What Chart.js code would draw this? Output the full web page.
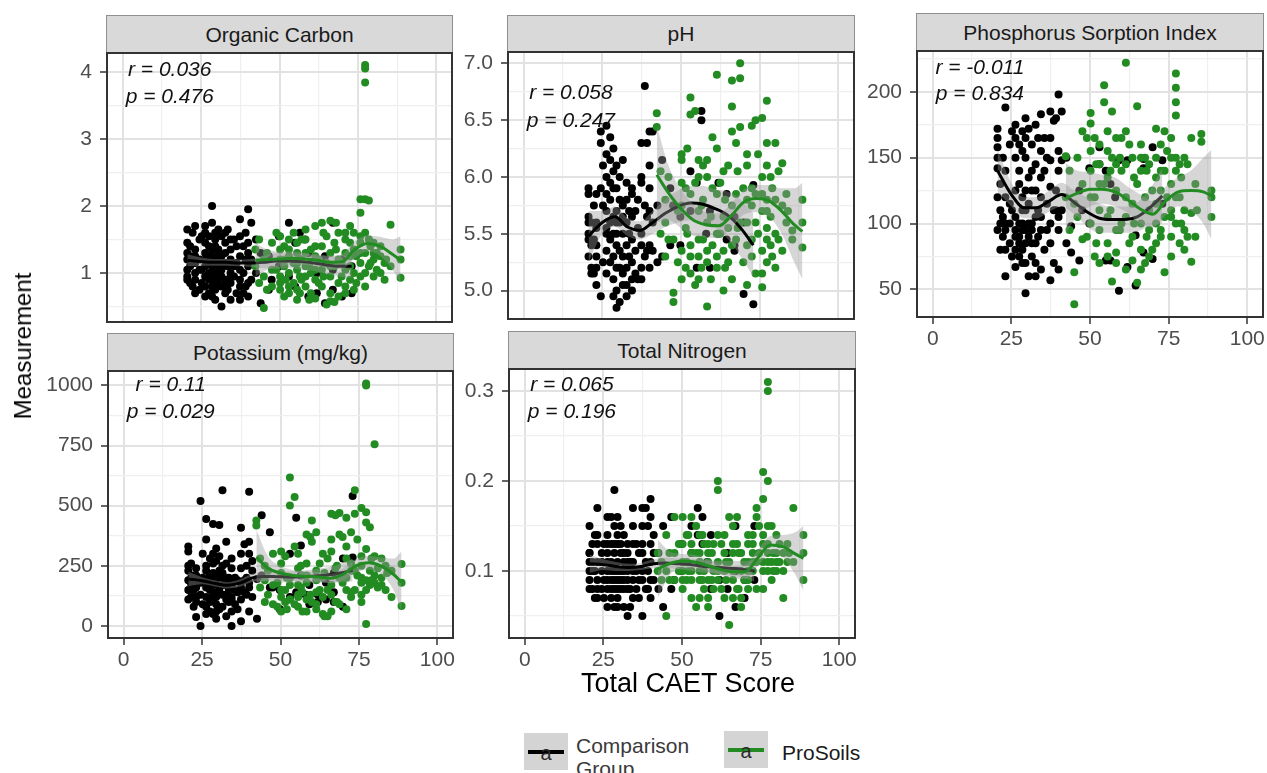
<!DOCTYPE html>
<html lang="en">
<head>
<meta charset="UTF-8">
<title>Soil measurements vs Total CAET Score</title>
<style>
  body { margin: 0; background: #fff; font-family: "Liberation Sans", Arial, sans-serif; }
  #stage { position: relative; width: 1267px; height: 773px; overflow: hidden; background: #fff; }
  #stage canvas { position: absolute; }
  .strip {
    position: absolute; box-sizing: border-box; background: #d9d9d9;
    border: 1px solid #8f8f8f; border-bottom: none; color: #1a1a1a; font-size: 21px;
    display: flex; align-items: center; justify-content: center;
  }
  .stat { position: absolute; font-size: 21px; font-style: italic; color: #111; white-space: nowrap; transform: translate(-50%, -50%); }
  .title { position: absolute; color: #000; white-space: nowrap; transform: translate(-50%, -50%); }
  .key { position: absolute; width: 44px; height: 37px; background: #d4d4d4; }
  .key .line { position: absolute; left: 4px; right: 4px; top: 17px; height: 4px; }
  .key .a { position: absolute; left: 0; right: 0; top: 9px; text-align: center; font-size: 20px; color: #2a2a2a; }
  .ltext { position: absolute; font-size: 21px; line-height: 23px; }
</style>
<script src="https://cdn.jsdelivr.net/npm/chart.js"></script>
</head>
<body>
<div id="stage"></div>
<script>
// CAET score of every sample (shared by all five panels)
const compScore = [
  20.6,20.6,20.6,20.6,20.6, 21.5,21.5,21.5,21.5, 23.1,23.1,23.1,23.1,23.1, 24.5,24.5,24.5,24.5,
  26.3,26.3,26.3,26.3,26.3,26.3, 27.5,27.5,27.5,27.5,27.5, 28.5,28.5,28.5,28.5,28.5,
  29.5,29.5,29.5,29.5,29.5,29.5, 30.5,30.5,30.5,30.5, 31.5,31.5,31.5,31.5, 32.7,32.7,32.7,32.7,32.7,
  34.4,34.4,34.4,34.4,34.4, 35.5,35.5,35.5, 37.4,37.4,37.4,37.4,37.4, 38.5,38.5,38.5, 40,40,40,40, 41,41,41,
  42.5,42.5, 44,44, 46.6,46.6, 49.8,49.8, 53,53, 55,55, 56.5,56.5, 59.2,59.2, 61.9,61.9, 64.5,64.5,
  67,67,67, 69.9,69.9, 73,73,
  20.6,20.6, 22.3,22.3,22.3, 23.1,23.1, 25.2,25.2,25.2, 26.3,26.3,26.3, 27.5,27.5, 28.5,28.5,28.5,
  29.5,29.5,29.5, 30.5,30.5, 31.5,31.5,31.5, 32.7,32.7, 33.5,33.5,33.5, 34.4,34.4, 36.3,36.3,36.3,
  37.4,37.4, 39.2,39.2,39.2, 40,40, 47.5, 58
];
const proScore = [
  42.3,42.3, 43.5,43.5, 45,45,45, 47.6,47.6,47.6, 50.2,50.2,50.2,50.2, 51.5,51.5,51.5, 53,53,53,53,
  54.5,54.5,54.5, 55.6,55.6,55.6,55.6, 57,57,57, 58.3,58.3,58.3,58.3, 60,60,60, 61.4,61.4,61.4,61.4,
  63.5,63.5,63.5,63.5, 65,65,65, 66.2,66.2,66.2,66.2, 67.5,67.5,67.5, 68.8,68.8,68.8,68.8, 71,71,71,71,
  72.5,72.5,72.5, 73.7,73.7,73.7,73.7, 75.8,75.8,75.8,75.8,75.8, 77.3,77.3,77.3,77.3,77.3,77.3,
  78.5,78.5,78.5, 80,80,80,80, 82.2,82.2,82.2, 83.5,83.5, 85.4,85.4, 88.6,88.6,88.6,
  46,46, 49,49, 50.2,50.2, 52,52, 53,53, 55.6,55.6, 56.5,56.5, 58.3,58.3, 59.5,59.5, 61.4,61.4,
  62.5,62.5, 64,64, 66.2,66.2, 68,68, 69.8,69.8, 71,71, 72.5,72.5, 74.5,74.5, 75.8,75.8, 77.3,77.3,
  79,79, 81,81, 84
];

// Organic Carbon
const compOC = [
  1.65,1.2,1.05,0.95,1.3, 1.1,0.85,1.4,1.25, 1.7,1.15,0.9,1.0,1.35, 1.5,0.75,1.2,1.05,
  1.45,1.1,0.95,0.8,1.3,1.6, 1.25,0.7,1.0,1.55,1.15, 2.0,1.35,0.9,1.1,0.65,
  1.6,1.2,0.85,1.0,1.4,0.75, 1.3,0.95,1.65,1.1, 0.5,1.05,1.25,0.8, 1.45,0.9,1.15,0.7,1.6,
  1.2,0.6,1.35,1.0,0.85, 1.5,0.95,1.1, 1.8,1.25,0.8,1.05,0.6, 1.4,1.0,0.7, 1.95,1.1,0.85,1.3, 1.75,0.9,1.2,
  1.5,1.0, 0.55,1.3, 1.25,0.75, 1.55,1.1, 1.75,0.95, 1.45,0.8, 1.2,1.6, 1.3,0.65, 1.0,0.7, 0.55,1.25,
  1.75,0.75,1.05, 0.65,1.2, 0.7,1.1,
  1.45,0.9, 1.6,1.15,0.8, 1.25,0.7, 1.55,1.05,0.85, 1.7,1.2,0.65, 1.4,0.9, 1.75,1.25,0.8,
  1.5,1.15,0.6, 1.35,0.85, 1.55,1.15,0.95, 1.3,0.8, 1.65,1.1,0.75, 1.5,0.95, 1.4,1.15,0.7,
  1.55,0.9, 1.6,1.2,0.8, 1.45,0.65, 0.9, 1.5
];
const proOC = [
  1.35,1.1, 1.5,0.85, 0.48,1.2,0.95, 1.45,0.8,1.05, 1.55,1.2,0.75,0.95, 1.4,0.65,1.1, 1.35,1.0,0.7,1.25,
  1.6,0.85,1.15, 1.3,0.75,1.05,0.6, 1.5,0.9,1.2, 1.65,1.1,0.8,0.95, 1.35,0.7,1.0, 1.7,1.25,0.9,0.62,
  1.75,1.4,1.05,0.8, 1.55,0.53,1.15, 1.78,1.3,0.95,0.7, 1.45,0.57,1.1, 1.6,1.2,0.85,0.65, 1.5,1.05,0.8,1.3,
  1.7,1.25,0.9, 1.6,1.35,1.0,0.75, 2.1,1.9,1.45,1.15,0.95, 4.1,4.05,3.84,2.1,1.3,1.0,
  2.08,1.5,1.1, 1.45,1.2,0.95,1.3, 1.25,1.0,1.4, 1.15,0.9, 1.72,1.1, 1.35,0.93,1.2,
  1.3,0.75, 1.05,1.6, 0.85,1.35, 1.2,0.9, 1.5,0.8, 1.45,1.15, 0.95,0.7, 1.3,1.5, 1.1,0.6, 1.4,1.05,
  0.85,1.2, 1.6,0.95, 1.1,0.58, 1.35,1.75, 0.95,1.15, 1.6,0.7, 1.1,1.45, 1.25,0.85, 1.55,1.3, 1.6,0.8,
  1.4,1.15, 1.3,1.05, 1.2
];

// pH
const compPH = [
  5.85,5.6,5.5,5.45,5.65, 5.15,5.4,5.6,5.2, 5.2,5.05,5.6,5.4,5.55, 6.4,6.3,5.9,4.95,
  6.2,6.0,5.7,5.55,5.5,5.35, 6.35,6.15,5.8,5.6,5.45, 6.05,5.9,5.65,5.3,5.1,
  5.9,5.7,5.5,5.4,5.0,4.85, 6.0,5.6,5.2,4.9, 5.75,5.5,5.3,5.05, 5.8,5.6,5.4,5.2,4.95,
  5.85,5.65,5.45,5.1,5.0, 5.7,5.35,5.15, 6.3,6.0,5.5,5.1,5.4, 6.8,5.75,5.3, 6.4,6.1,5.7,5.4, 6.4,5.35,5.6,
  5.75,5.25, 6.15,5.3, 5.4,5.9, 5.4,5.65, 6.05,5.7, 5.2,5.95, 6.58,6.5, 5.2,5.7, 5.95,5.5, 5.85,5.45,
  5.4,5.35,5.65, 5.6,4.97, 5.93,4.88,
  5.3,5.9, 5.75,5.45,5.15, 5.85,5.3, 6.1,5.75,5.25, 6.45,5.85,5.15, 5.95,5.25, 6.25,5.5,4.95,
  6.1,5.6,5.2, 5.8,5.35, 6.15,5.65,5.15, 5.95,5.05, 5.7,5.5,5.3, 5.9,5.25, 5.8,5.55,5.1,
  5.95,5.2, 6.3,5.65,5.35, 5.9,5.2, 5.75, 5.5
];
const proPH = [
  6.56,6.44, 5.5,6.05, 5.8,5.3,5.6, 4.98,4.9,5.45, 6.2,6.15,5.75,5.35, 5.55,5.2,5.9, 6.7,6.55,5.4,5.15,
  6.58,5.95,5.05, 6.15,5.7,5.3,5.1, 6.1,5.8,5.45, 4.86,5.6,5.25,6.0, 6.35,5.9,5.4, 6.9,5.85,5.5,5.2,
  5.65,5.35,5.0,6.05, 6.1,5.55,5.25, 6.85,6.62,5.75,5.1, 6.3,5.85,5.45, 7.0,6.87,6.44,5.6, 6.2,5.8,5.4,5.05,
  6.45,5.9,5.3, 6.5,5.85,5.6,5.15, 6.52,6.0,5.7,5.35,5.03, 6.67,6.1,5.8,5.45,5.25,5.55,
  6.0,5.65,5.4, 6.3,5.8,5.5,5.2, 6.12,5.75,5.35, 5.85,5.6, 5.53,5.45, 5.8,5.38,5.6,
  6.0,5.45, 5.7,5.25, 5.95,5.1, 6.25,5.5, 5.85,5.3, 6.0,5.45, 5.75,5.2, 6.15,5.35, 5.65,5.1, 6.25,5.3,
  5.95,5.5, 5.8,5.2, 6.4,5.4, 6.05,5.55, 5.9,5.25, 6.1,5.6, 5.75,5.45, 6.2,5.5, 5.85,5.15, 6.3,5.7,
  5.9,5.3, 6.05,5.45, 5.7
];

// Phosphorus Sorption Index
const compPSI = [
  172,158,150,142,120, 130,100,80,110, 188,100,60,95,140, 160,100,85,115,
  175,165,150,90,80,67, 140,130,100,85,75, 170,155,95,70,110,
  180,150,110,95,85,47, 172,135,90,60, 160,125,100,75, 175,145,105,85,60,
  183,155,120,95,65, 165,140,80, 185,148,128,85,57, 178,110,70, 198,155,95,65, 185,148,110,
  150,85, 78,98, 125,72, 142,100, 158,145, 140,72, 130,72, 148,49, 148,67, 91,53,
  149,78,142, 158,73, 148,115,
  95,165, 105,90,150, 120,80, 170,110,75, 125,105,95, 160,90, 120,100,80,
  165,125,70, 115,100, 140,95,85, 125,70, 165,110,90, 135,105, 150,115,95,
  165,100, 180,125,110, 140,105, 110, 120
];
const proPSI = [
  151,120, 140,95, 38.6,62.9,115, 170,130,88, 184,176,100,140, 165,75,120, 160,145,110,70,
  205,192,130, 170,135,105,85, 185,150,56, 145,125,95,78, 165,140,100, 222,170,120,65,
  150,115,90,72, 189,130,55, 160,140,100,80, 150,120,70, 145,110,95,75, 172,135,100,85,
  160,125,90, 170,140,105,63, 150,130,110,90,75, 214,203,192,182,140,100,
  145,120,85, 150,110,95,80, 165,108,71, 130,90, 168,162, 125,105,120,
  150,105, 165,90, 155,120, 145,85, 130,95, 155,75, 140,110, 165,70, 150,95, 145,105,
  160,85, 135,100, 150,65, 140,90, 125,80, 150,115, 140,95, 155,120, 165,105, 150,120,
  135,100, 145,90, 110
];

// Potassium (mg/kg)
const compK = [
  330,310,150,230,190, 200,175,120,260, 37,240,160,100,210, 0,520,180,130,
  445,360,250,190,120,80, 280,150,60,210,170, 424,300,220,110,50,
  322,270,190,140,90,30, 420,230,160,70, 564,250,130,200, 350,200,110,40,170,
  280,180,120,60,0, 200,150,90, 408,240,180,110,20, 340,190,140, 558,300,160,60, 270,120,230,
  195,30, 460,210, 390,160, 150,70, 300,120, 450,140, 335,210, 90,170, 100,130, 110,180,
  140,100,220, 80,280, 540,285,
  110,250, 210,150,80, 170,120, 300,200,90, 230,160,50, 190,100, 260,170,130,
  210,120,60, 290,150, 220,170,80, 260,130, 200,150,100, 240,110, 190,140,70,
  300,160, 250,200,130, 350,180, 160, 130
];
const proK = [
  439,418, 280,160, 250,100,190, 170,90,300, 310,220,120,60, 290,150,100, 617,501,110,200,
  536,330,90, 240,170,80,130, 210,140,60, 380,260,110,180, 439,350,100, 390,230,140,70,
  300,200,120,50, 280,150,40, 467,360,170,60, 460,240,100, 470,380,200,90, 450,330,150,70,
  390,260,120, 564,467,230,150, 490,290,200,130,100, 1008,1000,473,430,8,190,
  410,230,170, 755,290,180,210, 280,170,200, 250,150, 120,230, 258,83,180,
  230,130, 180,80, 260,150, 200,70, 170,110, 300,120, 250,160, 210,60, 370,130, 190,90,
  260,150, 220,40, 310,130, 250,100, 370,180, 280,200, 230,140, 360,210, 250,180, 320,150,
  280,190, 240,160, 220
];

// Total Nitrogen
const compTN = [
  0.15,0.12,0.09,0.10,0.11, 0.11,0.08,0.13,0.10, 0.17,0.14,0.13,0.07,0.09, 0.11,0.08,0.12,0.10,
  0.16,0.14,0.12,0.09,0.06,0.10, 0.13,0.11,0.08,0.07,0.10, 0.19,0.15,0.12,0.09,0.06,
  0.16,0.13,0.11,0.08,0.09,0.07, 0.15,0.12,0.10,0.08, 0.14,0.11,0.09,0.06, 0.13,0.10,0.08,0.05,0.11,
  0.17,0.15,0.11,0.09,0.07, 0.13,0.10,0.08, 0.17,0.15,0.12,0.09,0.05, 0.17,0.11,0.08, 0.18,0.16,0.11,0.07, 0.14,0.09,0.12,
  0.12,0.08, 0.15,0.06, 0.16,0.08, 0.13,0.10, 0.15,0.12, 0.17,0.14, 0.16,0.13, 0.14,0.08, 0.09,0.05, 0.12,0.08,
  0.06,0.15,0.10, 0.09,0.07, 0.15,0.09,
  0.08,0.12, 0.14,0.10,0.07, 0.11,0.08, 0.13,0.09,0.07, 0.11,0.08,0.13, 0.16,0.09, 0.13,0.10,0.08,
  0.14,0.10,0.06, 0.13,0.09, 0.12,0.10,0.08, 0.12,0.09, 0.11,0.08,0.06, 0.13,0.10, 0.12,0.09,0.07,
  0.13,0.10, 0.15,0.10,0.08, 0.13,0.09, 0.09, 0.11
];
const proTN = [
  0.12,0.10, 0.09,0.11, 0.05,0.14,0.10, 0.16,0.12,0.09, 0.16,0.13,0.10,0.08, 0.14,0.11,0.09, 0.16,0.12,0.10,0.07,
  0.15,0.12,0.06, 0.14,0.11,0.09,0.07, 0.13,0.10,0.08, 0.12,0.09,0.07,0.06, 0.13,0.10,0.08, 0.20,0.19,0.11,0.09,
  0.14,0.12,0.10,0.07, 0.16,0.11,0.04, 0.15,0.12,0.09,0.07, 0.16,0.13,0.08, 0.12,0.10,0.07,0.06, 0.13,0.11,0.09,0.08,
  0.14,0.12,0.10, 0.17,0.16,0.11,0.08, 0.21,0.18,0.13,0.10,0.08, 0.31,0.30,0.20,0.15,0.12,0.10,
  0.15,0.11,0.09, 0.14,0.12,0.10,0.11, 0.12,0.10,0.07, 0.13,0.11, 0.17,0.11, 0.14,0.09,0.12,
  0.12,0.09, 0.13,0.10, 0.11,0.09, 0.14,0.10, 0.13,0.09, 0.12,0.10, 0.14,0.09, 0.13,0.11, 0.12,0.09, 0.14,0.10,
  0.13,0.08, 0.11,0.09, 0.13,0.10, 0.12,0.08, 0.11,0.09, 0.14,0.10, 0.13,0.11, 0.15,0.12, 0.14,0.11, 0.13,0.11,
  0.12,0.10, 0.13,0.11, 0.12
];

// loess fits: fit, lower, upper
const smoothCompX = [20.6, 25, 29, 33, 37, 41, 45, 49, 53, 57, 61, 65, 69, 73];
const smoothProX  = [42.3, 46, 50, 54, 58, 62, 66, 70, 74, 78, 82, 86, 88.6];

const ocCompFit = [1.19,1.17,1.16,1.16,1.15,1.15,1.16,1.18,1.18,1.17,1.15,1.12,1.10,1.10];
const ocCompLo  = [1.10,1.11,1.11,1.11,1.10,1.09,1.07,1.06,1.07,1.05,1.03,0.99,0.95,0.93];
const ocCompHi  = [1.28,1.23,1.21,1.21,1.20,1.21,1.25,1.30,1.29,1.29,1.27,1.25,1.25,1.27];
const ocProFit  = [1.19,1.20,1.21,1.22,1.21,1.19,1.16,1.17,1.35,1.44,1.40,1.28,1.19];
const ocProLo   = [0.95,1.05,1.10,1.12,1.12,1.10,1.06,1.06,1.22,1.32,1.26,1.05,0.85];
const ocProHi   = [1.45,1.35,1.32,1.32,1.30,1.28,1.26,1.28,1.48,1.56,1.54,1.50,1.55];

const phCompFit = [5.48,5.60,5.65,5.56,5.53,5.60,5.68,5.74,5.77,5.76,5.72,5.66,5.55,5.40];
const phCompLo  = [5.25,5.50,5.56,5.48,5.45,5.50,5.56,5.60,5.62,5.60,5.55,5.45,5.30,5.12];
const phCompHi  = [5.70,5.70,5.74,5.64,5.61,5.70,5.80,5.88,5.92,5.92,5.89,5.87,5.80,5.68];
const phProFit  = [6.02,5.86,5.72,5.62,5.58,5.57,5.66,5.78,5.81,5.79,5.70,5.58,5.52];
const phProLo   = [5.60,5.62,5.55,5.48,5.47,5.46,5.55,5.67,5.69,5.65,5.50,5.25,5.10];
const phProHi   = [6.45,6.10,5.89,5.76,5.69,5.68,5.77,5.89,5.93,5.93,5.90,5.90,5.95];

const psiCompFit = [140,122,112,112,117,122,116,109,104,103,103,105,112,121];
const psiCompLo  = [124,113,104,104,109,113,107,98,93,93,93,94,98,100];
const psiCompHi  = [156,131,120,120,125,131,125,120,115,113,113,116,126,142];
const psiProFit  = [119,123,126,126,124,118,111,107,117,124,125,124,121];
const psiProLo   = [92,106,113,115,113,108,100,97,106,113,110,100,88];
const psiProHi   = [146,140,139,137,135,128,122,117,128,135,140,150,156];

const kCompFit = [195,188,177,169,178,200,206,205,204,205,208,212,220,232];
const kCompLo  = [165,173,164,156,163,183,186,183,180,180,180,180,182,185];
const kCompHi  = [225,203,190,182,193,217,226,227,228,230,236,244,258,279];
const kProFit  = [286,240,220,210,206,204,198,215,250,263,250,215,182];
const kProLo   = [175,190,190,188,186,184,178,190,222,235,215,150,60];
const kProHi   = [400,290,250,232,226,224,218,240,278,291,285,280,310];

const tnCompFit = [0.108,0.107,0.105,0.104,0.105,0.108,0.109,0.108,0.107,0.105,0.104,0.103,0.102,0.100];
const tnCompLo  = [0.098,0.101,0.100,0.100,0.101,0.103,0.103,0.102,0.100,0.098,0.097,0.095,0.093,0.088];
const tnCompHi  = [0.118,0.113,0.110,0.108,0.109,0.113,0.115,0.114,0.114,0.112,0.111,0.111,0.111,0.112];
const tnProFit  = [0.102,0.108,0.111,0.110,0.106,0.102,0.099,0.099,0.114,0.129,0.127,0.119,0.114];
const tnProLo   = [0.070,0.095,0.103,0.103,0.100,0.096,0.092,0.091,0.105,0.119,0.115,0.096,0.078];
const tnProHi   = [0.135,0.122,0.119,0.118,0.113,0.108,0.106,0.107,0.123,0.139,0.140,0.143,0.150];

// tick labels
const xTicks = [0, 25, 50, 75, 100];
const ocTicks = [1, 2, 3, 4];
const phTicks = [5.0, 5.5, 6.0, 6.5, 7.0];
const psiTicks = [50, 100, 150, 200];
const kTicks = [0, 250, 500, 750, 1000];
const tnTicks = [0.1, 0.2, 0.3];

const GREEN = '#228b22';
const BAND = 'rgba(153,153,153,0.4)';
const FONT = '"Liberation Sans", Arial, sans-serif';

// box = plot area [left, top, right, bottom] in page pixels
const panels = [
  { title: 'Organic Carbon', box: [107, 53, 452, 322], stripTop: 15, xAxis: false,
    y: [0.27, 4.28], ticks: ocTicks, dec: 0, comp: compOC, pro: proOC,
    compFit: [ocCompFit, ocCompLo, ocCompHi], proFit: [ocProFit, ocProLo, ocProHi],
    stats: ['r = 0.036', 'p = 0.476'], statY: [4.04, 3.64] },
  { title: 'pH', box: [508, 52, 854, 319], stripTop: 15, xAxis: false,
    y: [4.75, 7.1], ticks: phTicks, dec: 1, comp: compPH, pro: proPH,
    compFit: [phCompFit, phCompLo, phCompHi], proFit: [phProFit, phProLo, phProHi],
    stats: ['r = 0.058', 'p = 0.247'], statY: [6.75, 6.5] },
  { title: 'Phosphorus Sorption Index', box: [917, 51, 1263, 317], stripTop: 13, xAxis: true,
    y: [29, 231], ticks: psiTicks, dec: 0, comp: compPSI, pro: proPSI,
    compFit: [psiCompFit, psiCompLo, psiCompHi], proFit: [psiProFit, psiProLo, psiProHi],
    stats: ['r = -0.011', 'p = 0.834'], statY: [219, 199] },
  { title: 'Potassium (mg/kg)', box: [108, 371, 453, 638], stripTop: 333, xAxis: true,
    y: [-50, 1060], ticks: kTicks, dec: 0, comp: compK, pro: proK,
    compFit: [kCompFit, kCompLo, kCompHi], proFit: [kProFit, kProLo, kProHi],
    stats: ['r = 0.11', 'p = 0.029'], statY: [1004, 892] },
  { title: 'Total Nitrogen', box: [509, 369, 855, 638], stripTop: 331, xAxis: true,
    y: [0.0255, 0.3245], ticks: tnTicks, dec: 1, comp: compTN, pro: proTN,
    compFit: [tnCompFit, tnCompLo, tnCompHi], proFit: [tnProFit, tnProLo, tnProHi],
    stats: ['r = 0.065', 'p = 0.196'], statY: [0.308, 0.278] }
];

const stage = document.getElementById('stage');
const isTick = (v, list) => list.some(t => Math.abs(t - v) < 1e-6);
const pts = (xs, ys) => xs.map((x, i) => ({ x: x, y: ys[i] }));

// major breaks plus the minor ones half way between them, inside [min, max]
function gridValues(list, min, max) {
  const half = (list[1] - list[0]) / 2;
  let v = list[0];
  while (v - half >= min - 1e-9) v -= half;
  const out = [];
  for (; v <= max + 1e-9; v += half) out.push(Math.round(v * 1e6) / 1e6);
  return out.map(value => ({ value }));
}

const panelBorder = {
  id: 'panelBorder',
  afterDraw(chart) {
    const a = chart.chartArea, ctx = chart.ctx;
    ctx.save();
    ctx.strokeStyle = '#333';
    ctx.lineWidth = 2;
    ctx.strokeRect(a.left, a.top, a.right - a.left, a.bottom - a.top);
    ctx.restore();
  }
};

function axisGrid(list, drawTicks) {
  return {
    color: c => isTick(c.tick.value, list) ? '#e2e2e2' : '#efefef',
    lineWidth: c => isTick(c.tick.value, list) ? 2 : 1.2,
    drawTicks: drawTicks,
    tickLength: 7,
    tickWidth: 1.5,
    tickColor: c => isTick(c.tick.value, list) ? '#333' : 'rgba(0,0,0,0)'
  };
}

function smoothSet(xs, ys, extra) {
  return Object.assign({
    type: 'line', data: pts(xs, ys), pointRadius: 0, borderWidth: 0,
    borderColor: 'rgba(0,0,0,0)', fill: false, cubicInterpolationMode: 'monotone'
  }, extra);
}

panels.forEach(p => {
  const [L, T, R, B] = p.box;
  const yw = 75, pad = 24, xh = p.xAxis ? 40 : 0;

  const strip = document.createElement('div');
  strip.className = 'strip';
  strip.textContent = p.title;
  strip.style.left = (L - 1) + 'px';
  strip.style.top = p.stripTop + 'px';
  strip.style.width = (R - L + 2) + 'px';
  strip.style.height = (T - p.stripTop) + 'px';
  stage.appendChild(strip);

  const cv = document.createElement('canvas');
  cv.width = R - L + yw + pad;
  cv.height = B - T + xh + 2 * pad;
  cv.style.left = (L - yw) + 'px';
  cv.style.top = (T - pad) + 'px';
  stage.appendChild(cv);

  const chart = new Chart(cv, {
    type: 'scatter',
    data: {
      datasets: [
        { type: 'scatter', data: pts(compScore, p.comp), backgroundColor: '#000', borderColor: '#000',
          borderWidth: 0, pointRadius: 4, order: 6 },
        { type: 'scatter', data: pts(proScore, p.pro), backgroundColor: GREEN, borderColor: GREEN,
          borderWidth: 0, pointRadius: 4, order: 5 },
        smoothSet(smoothCompX, p.compFit[1], { order: 4 }),
        smoothSet(smoothCompX, p.compFit[2], { order: 4, fill: '-1', backgroundColor: BAND }),
        smoothSet(smoothCompX, p.compFit[0], { order: 3, borderColor: '#000', borderWidth: 3 }),
        smoothSet(smoothProX, p.proFit[1], { order: 2 }),
        smoothSet(smoothProX, p.proFit[2], { order: 2, fill: '-1', backgroundColor: BAND }),
        smoothSet(smoothProX, p.proFit[0], { order: 1, borderColor: GREEN, borderWidth: 3 })
      ]
    },
    options: {
      responsive: false,
      animation: false,
      devicePixelRatio: 1,
      layout: { padding: { left: 0, top: pad, right: pad, bottom: pad } },
      plugins: { legend: { display: false }, tooltip: { enabled: false } },
      scales: {
        x: {
          type: 'linear', min: -5, max: 105,
          afterBuildTicks: s => { s.ticks = gridValues(xTicks, -5, 105); },
          afterFit: s => { s.height = xh; },
          border: { display: false },
          grid: axisGrid(xTicks, p.xAxis),
          ticks: {
            display: p.xAxis, autoSkip: false, maxRotation: 0, minRotation: 0, padding: 3,
            color: '#4d4d4d', font: { family: FONT, size: 21 },
            callback: v => isTick(v, xTicks) ? String(v) : ''
          }
        },
        y: {
          type: 'linear', min: p.y[0], max: p.y[1],
          afterBuildTicks: s => { s.ticks = gridValues(p.ticks, p.y[0], p.y[1]); },
          afterFit: s => { s.width = yw; },
          border: { display: false },
          grid: axisGrid(p.ticks, true),
          ticks: {
            autoSkip: false, padding: 8,
            color: '#4d4d4d', font: { family: FONT, size: 21 },
            callback: v => isTick(v, p.ticks) ? Number(v).toFixed(p.dec) : ''
          }
        }
      }
    },
    plugins: [panelBorder]
  });

  // r / p labels placed at x = 15 in data units
  p.stats.forEach((txt, k) => {
    const d = document.createElement('div');
    d.className = 'stat';
    d.textContent = txt;
    d.style.left = (L - yw + chart.scales.x.getPixelForValue(15)) + 'px';
    d.style.top = (T - pad + chart.scales.y.getPixelForValue(p.statY[k])) + 'px';
    stage.appendChild(d);
  });
});

// axis titles and legend
function addEl(cls, html, css) {
  const d = document.createElement('div');
  d.className = cls;
  d.innerHTML = html;
  Object.assign(d.style, css);
  stage.appendChild(d);
  return d;
}
addEl('title', 'Total CAET Score', { left: '688px', top: '683px', fontSize: '27px' });
addEl('title', 'Measurement', { left: '23px', top: '346px', fontSize: '24px', transform: 'translate(-50%,-50%) rotate(-90deg)' });

addEl('key', '<div class="line" style="background:#000"></div><div class="a">a</div>', { left: '524px', top: '733px' });
addEl('ltext', 'Comparison<br>Group', { left: '576px', top: '734px', color: '#3a3a3a' });
addEl('key', '<div class="line" style="background:' + GREEN + '"></div><div class="a">a</div>', { left: '724px', top: '731px' });
addEl('ltext', 'ProSoils', { left: '782px', top: '741px', color: '#1a1a1a' });
</script>
</body>
</html>
